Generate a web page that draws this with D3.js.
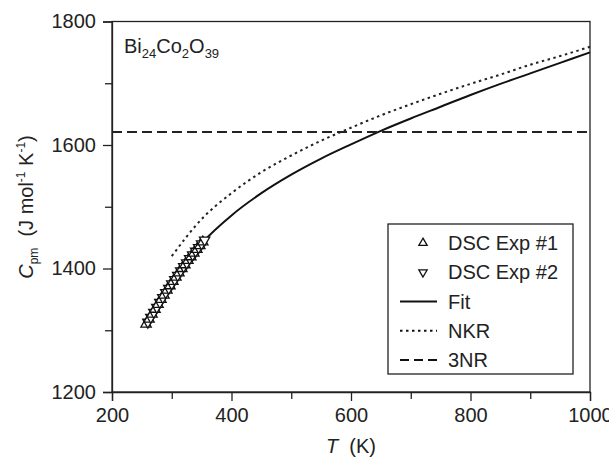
<!DOCTYPE html>
<html>
<head>
<meta charset="utf-8">
<script src="https://cdn.jsdelivr.net/npm/d3@7"></script>
<style>
  body { margin: 0; background: #fff; }
  text { font-family: "Liberation Sans", Arial, sans-serif; fill: #222; }
</style>
</head>
<body>
<div id="container"></div>
<script>
// values
let exp1T  = [257, 262, 267, 272, 277, 282, 287, 292, 297, 302, 307, 312, 317, 322, 327, 332, 337, 342, 347, 352];
let exp1Cp = [1310, 1318, 1326, 1334, 1342, 1350, 1357, 1365, 1372, 1379, 1386, 1393, 1400, 1406, 1413, 1419, 1425, 1431, 1437, 1443];
let exp2T  = [260, 265, 270, 275, 280, 285, 290, 295, 300, 305, 310, 315, 320, 325, 330, 335, 340, 345, 350, 355];
let exp2Cp = [1313, 1321, 1329, 1337, 1345, 1353, 1361, 1368, 1375, 1382, 1389, 1396, 1403, 1409, 1416, 1422, 1428, 1434, 1440, 1446];
let fitT  = [255, 275, 300, 325, 350, 400, 450, 500, 550, 600, 650, 700, 750, 800, 850, 900, 950, 1000];
let fitCp = [1306, 1340, 1380, 1413, 1441, 1486, 1522, 1552, 1578, 1601, 1623, 1643, 1662, 1681, 1699, 1716, 1733, 1750];
let nkrT  = [300, 350, 400, 450, 500, 550, 600, 650, 700, 750, 800, 850, 900, 950, 1000];
let nkrCp = [1420, 1480, 1522, 1556, 1583, 1607, 1628, 1648, 1666, 1683, 1699, 1714, 1730, 1744, 1759];
let threeNR = 1621;
let xTicks = [200, 400, 600, 800, 1000];
let yTicks = [1200, 1400, 1600, 1800];
let legendNames = ["DSC Exp #1", "DSC Exp #2", "Fit", "NKR", "3NR"];

let w = 609;
let h = 457;
let mLeft = 112, mRight = 590, mTop = 21.5, mBottom = 392;

let viz = d3.select("#container").append("svg")
    .attr("width", w)
    .attr("height", h);

let x = d3.scaleLinear().domain([200, 1000]).range([mLeft, mRight]);
let y = d3.scaleLinear().domain([1200, 1800]).range([mBottom, mTop]);

// frame
viz.append("rect")
    .attr("x", mLeft).attr("y", mTop)
    .attr("width", mRight - mLeft).attr("height", mBottom - mTop)
    .attr("fill", "none").attr("stroke", "#222").attr("stroke-width", 1.3);

// axes
let xAxis = viz.append("g").attr("transform", "translate(0," + mBottom + ")")
    .call(d3.axisBottom(x).tickValues(d3.range(200, 1001, 100)).tickSize(9).tickPadding(7)
        .tickFormat(d => xTicks.includes(d) ? d : ""));
let yAxis = viz.append("g").attr("transform", "translate(" + mLeft + ",0)")
    .call(d3.axisLeft(y).tickValues(d3.range(1200, 1801, 100)).tickSize(9).tickPadding(7)
        .tickFormat(d => yTicks.includes(d) ? d : ""));
[xAxis, yAxis].forEach(a => {
  a.select(".domain").attr("stroke", "#222").attr("stroke-width", 1.3);
  a.selectAll(".tick line").attr("stroke", "#222").attr("stroke-width", 1.3);
  a.selectAll(".tick text").attr("font-size", 20).attr("fill", "#222")
      .style("font-family", "Liberation Sans, Arial, sans-serif");
});
xAxis.selectAll(".tick").filter(d => !xTicks.includes(d)).select("line").attr("y2", 7);
yAxis.selectAll(".tick").filter(d => !yTicks.includes(d)).select("line").attr("x2", -7);

// lines
let line = d3.line().x(d => x(d[0])).y(d => y(d[1])).curve(d3.curveMonotoneX);
viz.append("path")
    .datum(d3.zip(nkrT, nkrCp))
    .attr("d", line)
    .attr("fill", "none").attr("stroke", "#222").attr("stroke-width", 2)
    .attr("stroke-dasharray", "2.5,3.5");
viz.append("path")
    .datum(d3.zip(fitT, fitCp))
    .attr("d", line)
    .attr("fill", "none").attr("stroke", "#111").attr("stroke-width", 2);
viz.append("line")
    .attr("x1", x(200)).attr("x2", x(1000))
    .attr("y1", y(threeNR)).attr("y2", y(threeNR))
    .attr("stroke", "#222").attr("stroke-width", 2)
    .attr("stroke-dasharray", "10,5");

// data triangles
let pts = d3.zip(exp1T, exp1Cp).map(d => [d[0], d[1], 0])
    .concat(d3.zip(exp2T, exp2Cp).map(d => [d[0], d[1], 1]))
    .sort((a, b) => a[0] - b[0]);
let tri = d3.symbol().type(d3.symbolTriangle).size(46);
viz.append("g").selectAll("path")
    .data(pts)
    .join("path")
    .attr("d", tri)
    .attr("transform", d => "translate(" + x(d[0]) + "," + y(d[1]) + ")" + (d[2] ? " rotate(180)" : ""))
    .attr("fill", "#fff").attr("stroke", "#111").attr("stroke-width", 1.3);

// compound label
let title = viz.append("text").attr("x", 124).attr("y", 53).attr("font-size", 20);
title.append("tspan").text("Bi");
title.append("tspan").text("24").attr("font-size", 13).attr("dy", 5);
title.append("tspan").text("Co").attr("dy", -5);
title.append("tspan").text("2").attr("font-size", 13).attr("dy", 5);
title.append("tspan").text("O").attr("dy", -5);
title.append("tspan").text("39").attr("font-size", 13).attr("dy", 5);

// axis titles
let xt = viz.append("text").attr("x", 351).attr("y", 453).attr("text-anchor", "middle").attr("font-size", 20);
xt.append("tspan").text("T").attr("font-style", "italic");
xt.append("tspan").text("\u00a0 (K)");

let yt = viz.append("text").attr("transform", "translate(33,207) rotate(-90)")
    .attr("text-anchor", "middle").attr("font-size", 20);
yt.append("tspan").text("C").attr("font-style", "italic");
yt.append("tspan").text("pm").attr("font-size", 12).attr("dy", 5);
yt.append("tspan").text("\u00a0 (J mol").attr("dy", -5);
yt.append("tspan").text("-1").attr("font-size", 12).attr("dy", -8);
yt.append("tspan").text(" K").attr("dy", 8);
yt.append("tspan").text("-1").attr("font-size", 12).attr("dy", -8);
yt.append("tspan").text(")").attr("dy", 8);

// legend
let lg = viz.append("g");
lg.append("rect")
    .attr("x", 388).attr("y", 224).attr("width", 185).attr("height", 150)
    .attr("fill", "#fff").attr("stroke", "#222").attr("stroke-width", 1.3);
let rowY = d3.scalePoint().domain(legendNames).range([243, 360]);
legendNames.forEach((name, i) => {
  let cy = rowY(name);
  if (i < 2) {
    lg.append("path")
      .attr("d", d3.symbol().type(d3.symbolTriangle).size(30))
      .attr("transform", "translate(423," + cy + ")" + (i == 1 ? " rotate(180)" : ""))
      .attr("fill", "#fff").attr("stroke", "#111").attr("stroke-width", 1.3);
  } else {
    lg.append("line")
      .attr("x1", 400).attr("x2", 437).attr("y1", cy).attr("y2", cy)
      .attr("stroke", "#111").attr("stroke-width", 2)
      .attr("stroke-dasharray", i == 3 ? "2.5,3.5" : (i == 4 ? "9,5" : null));
  }
  lg.append("text")
    .text(name)
    .attr("x", 448).attr("y", cy + 7)
    .attr("font-size", 20);
});
</script>
</body>
</html>
